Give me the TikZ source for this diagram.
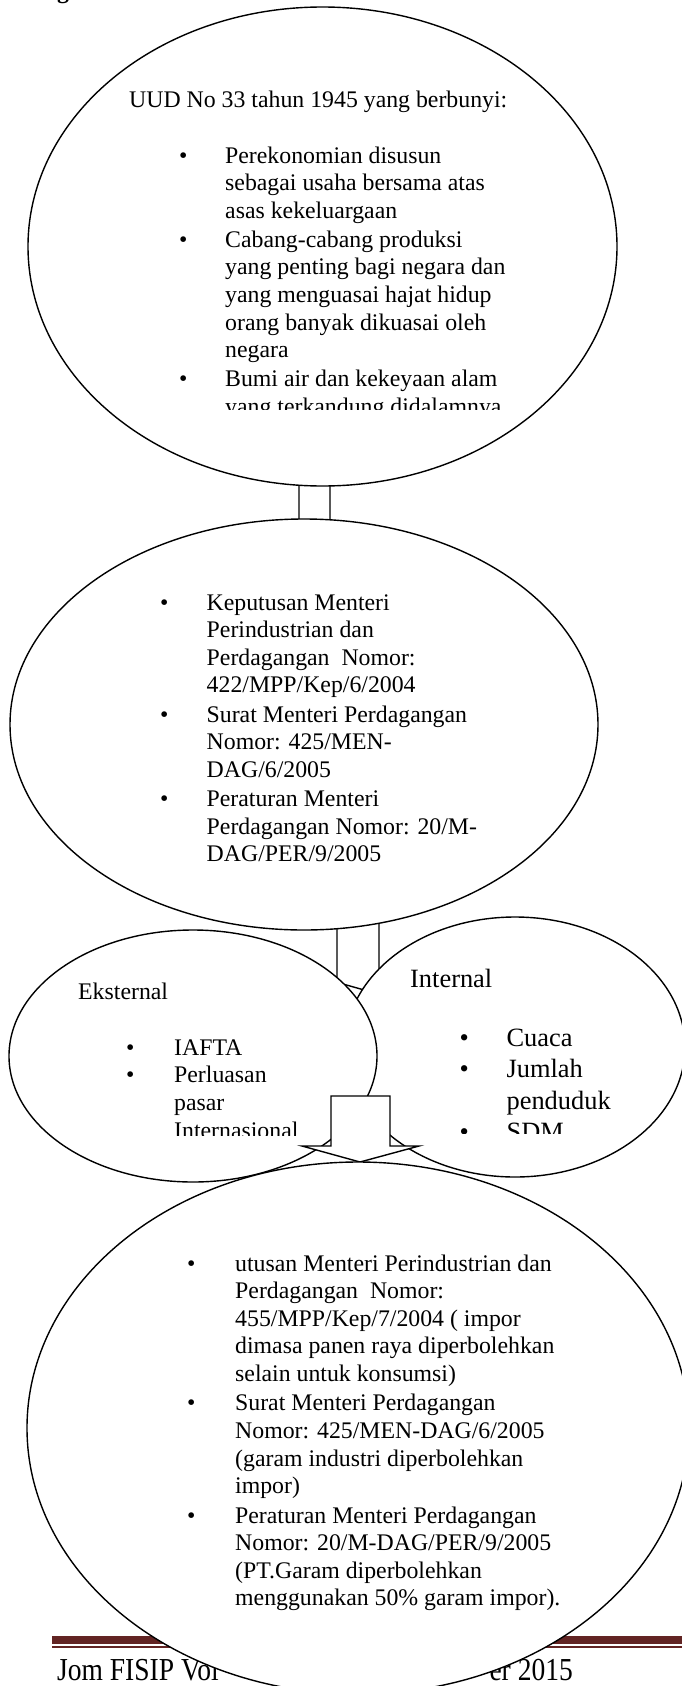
\documentclass[tikz,border=0pt]{standalone}
\usepackage{fontspec}
\setmainfont{Liberation Serif}
\newfontfamily\footfont[FakeStretch=0.86]{Liberation Serif}
\usepackage{xcolor}
\definecolor{footred}{HTML}{622423}
\usetikzlibrary{shapes.geometric}
\newcommand{\bodyfont}{\fontsize{23.8pt}{27.6pt}\selectfont}
\newcommand{\largebody}{\fontsize{26.4pt}{31.5pt}\selectfont}

\begin{document}
\begin{tikzpicture}[x=1pt, y=-1pt,
  bubble/.style={ellipse, draw, fill=white, line width=1.4pt, inner sep=0pt},
  blockarrow/.style={draw, fill=white, line width=1.4pt, line join=miter},
  txt/.style={anchor=base west, inner sep=0pt, align=left, font=\bodyfont}]
\useasboundingbox (0,0) rectangle (682,1686);
% page footer, partly hidden by the last bubble
\fill[footred] (52,1636) rectangle (682,1644);
\fill[footred] (52,1646.3) rectangle (682,1647.8);
\node[anchor=base west, inner sep=0pt, font={\footfont\fontsize{32pt}{36pt}\selectfont}] (footleft) at (57,1680) {Jom FISIP Vol};
\node[anchor=base east, inner sep=0pt, font={\footfont\fontsize{32pt}{36pt}\selectfont}] (footright) at (573,1680) {er 2015};
\node[txt, font=\bodyfont\bfseries] (headfrag) at (57,-1) {g};
% block arrows behind the bubbles
\draw[blockarrow] (299,450) -- (330,450) -- (330,540) -- (346,540) -- (314.5,556) -- (283,540) -- (299,540) -- cycle;
\draw[blockarrow] (337,900) -- (379,900) -- (379,977) -- (398,977) -- (366,990.5) -- (318,977) -- (337,977) -- cycle;
% UUD
\node[bubble, minimum width=589pt, minimum height=479pt] (uud) at (322.5,246.5) {};
\node[txt] (uudhead) at (129,107) {UUD No 33 tahun 1945 yang berbunyi:};
\begin{scope}
\clip (0,0) rectangle (682,409);
\node[txt] (uudlist) at (179,163) {\begin{tabular}[t]{@{}p{46pt}@{}l@{}}
\textbullet & Perekonomian disusun\\
 & sebagai usaha bersama atas\\
 & asas kekeluargaan\\[1.5pt]
\textbullet & Cabang-cabang produksi\\
 & yang penting bagi negara dan\\
 & yang menguasai hajat hidup\\
 & orang banyak dikuasai oleh\\
 & negara\\[1.5pt]
\textbullet & Bumi air dan kekeyaan alam\\
 & yang terkandung didalamnya
\end{tabular}};
\end{scope}
% keputusan menteri
\node[bubble, minimum width=588pt, minimum height=411pt] (kep) at (304,724.5) {};
\node[txt] (keplist) at (160,610) {\begin{tabular}[t]{@{}p{46.5pt}@{}l@{}}
\textbullet & Keputusan Menteri\\
 & Perindustrian dan\\
 & Perdagangan\ \ Nomor:\\
 & 422/MPP/Kep/6/2004\\[1.6pt]
\textbullet & Surat Menteri Perdagangan\\
 & Nomor: 425/MEN-\\
 & DAG/6/2005\\[1.6pt]
\textbullet & Peraturan Menteri\\
 & Perdagangan Nomor: 20/M-\\
 & DAG/PER/9/2005
\end{tabular}};
% internal and eksternal
\node[bubble, minimum width=340pt, minimum height=260pt] (intl) at (515,1047) {};
\node[txt, font=\largebody] (inthead) at (410,987) {Internal};
\begin{scope}
\clip (0,0) rectangle (682,1133);
\node[txt, font=\largebody] (intlist) at (459.4,1046) {\begin{tabular}[t]{@{}p{47pt}@{}l@{}}
\textbullet & Cuaca\\
\textbullet & Jumlah\\
 & penduduk\\
\textbullet & SDM
\end{tabular}};
\end{scope}
\node[bubble, minimum width=368pt, minimum height=252pt] (eks) at (193,1056) {};
\node[txt] (ekshead) at (78,999) {Eksternal};
\begin{scope}
\clip (0,0) rectangle (682,1135);
\node[txt, font={\fontsize{23.8pt}{27.9pt}\selectfont}] (ekslist) at (126,1055) {\begin{tabular}[t]{@{}p{48pt}@{}l@{}}
\textbullet & IAFTA\\
\textbullet & Perluasan\\
 & pasar\\
 & Internasional
\end{tabular}};
\end{scope}
\draw[blockarrow] (331,1096) -- (390,1096) -- (390,1146) -- (419,1146) -- (360,1162) -- (302,1146) -- (331,1146) -- cycle;
% kebijakan impor
\node[bubble, minimum width=662pt, minimum height=532pt] (kebijakan) at (358,1428) {};
\node[txt] (kebijakanlist) at (187,1271) {\begin{tabular}[t]{@{}p{48pt}@{}l@{}}
\textbullet & utusan Menteri Perindustrian dan\\
 & Perdagangan\ \ Nomor:\\
 & 455/MPP/Kep/7/2004 ( impor\\
 & dimasa panen raya diperbolehkan\\
 & selain untuk konsumsi)\\[1.8pt]
\textbullet & Surat Menteri Perdagangan\\
 & Nomor: 425/MEN-DAG/6/2005\\
 & (garam industri diperbolehkan\\
 & impor)\\[1.8pt]
\textbullet & Peraturan Menteri Perdagangan\\
 & Nomor: 20/M-DAG/PER/9/2005\\
 & (PT.Garam diperbolehkan\\
 & menggunakan 50\% garam impor).
\end{tabular}};
\end{tikzpicture}
\end{document}
